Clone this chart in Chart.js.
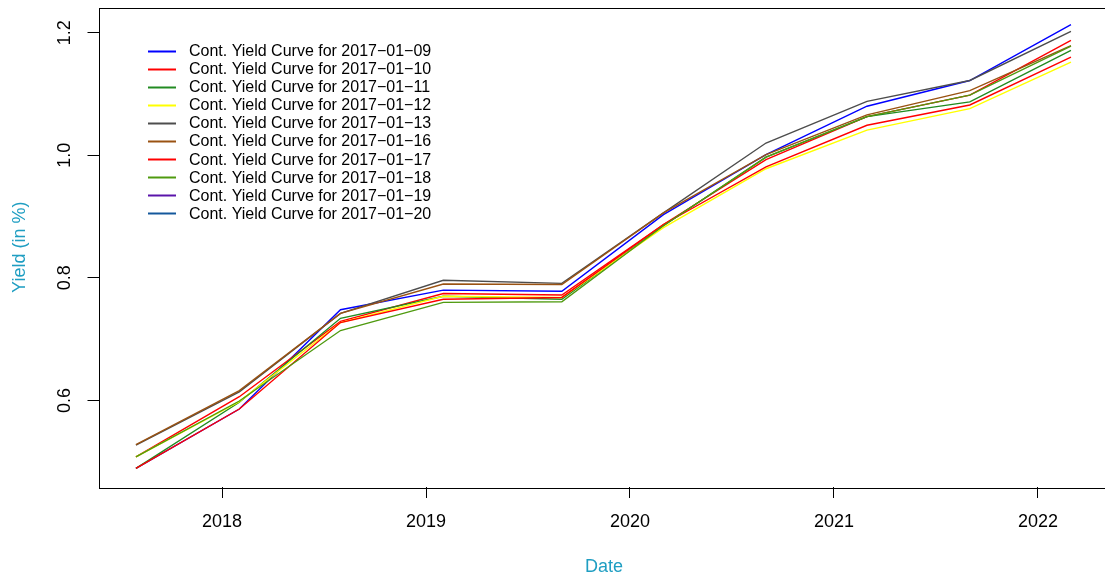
<!DOCTYPE html>
<html>
<head>
<meta charset="utf-8">
<script src="https://cdn.jsdelivr.net/npm/chart.js@4/dist/chart.umd.min.js"></script>
<style>
  html, body { margin: 0; padding: 0; background: #fff; overflow: hidden; }
  #wrap { position: relative; width: 1112px; height: 580px; }
</style>
</head>
<body>
<div id="wrap"><canvas id="c"></canvas></div>
<script>
// ---- data ----
const maturities = ['2017-07-31','2018-02-01','2018-08-01','2019-02-01','2019-09-01',
                    '2020-03-01','2020-09-01','2021-03-01','2021-09-01','2022-03-01'];
const seriesNames = ['Cont. Yield Curve for 2017\u221201\u221209','Cont. Yield Curve for 2017\u221201\u221210',
  'Cont. Yield Curve for 2017\u221201\u221211','Cont. Yield Curve for 2017\u221201\u221212',
  'Cont. Yield Curve for 2017\u221201\u221213','Cont. Yield Curve for 2017\u221201\u221216',
  'Cont. Yield Curve for 2017\u221201\u221217','Cont. Yield Curve for 2017\u221201\u221218',
  'Cont. Yield Curve for 2017\u221201\u221219','Cont. Yield Curve for 2017\u221201\u221220'];
const y20170109 = [0.489, 0.586, 0.748, 0.780, 0.778, 0.903, 1.001, 1.080, 1.122, 1.213];
const y20170110 = [0.508, 0.606, 0.729, 0.7745, 0.772, 0.887, 0.993, 1.063, 1.098, 1.1875];
const y20170111 = [0.489, 0.597, 0.734, 0.770, 0.765, 0.885, 0.997, 1.063, 1.087, 1.171];
const y20170112 = [0.508, 0.598, 0.727, 0.770, 0.768, 0.882, 0.978, 1.041, 1.076, 1.152];
const y20170113 = [0.527, 0.614, 0.742, 0.796, 0.791, 0.906, 1.020, 1.088, 1.122, 1.202];
const y20170116 = [0.528, 0.616, 0.742, 0.790, 0.789, 0.906, 1.001, 1.066, 1.1055, 1.179];
const y20170117 = [0.489, 0.586, 0.727, 0.765, 0.768, 0.887, 0.981, 1.049, 1.082, 1.160];
const y20170118 = [0.508, 0.599, 0.714, 0.760, 0.761, 0.885, 0.997, 1.063, 1.098, 1.178];
const y20170119 = [];
const y20170120 = [];
const xTickYears = [2018, 2019, 2020, 2021, 2022];
const yTickValues = [0.6, 0.8, 1.0, 1.2];

// ---- styling ----
const colors = ['#0000ff','#ff0000','#228b22','#ffff00','#4d4d4d','#9a5212','#ff0000','#4f9a0f','#5a14aa','#14589c'];
const allSeries = [y20170109,y20170110,y20170111,y20170112,y20170113,y20170116,y20170117,y20170118,y20170119,y20170120];
const titleColor = '#1f9ec2';
const FONT = '"Liberation Sans", Arial, Helvetica, sans-serif';

function decimalYear(s) {
  const [y, m, d] = s.split('-').map(Number);
  const start = Date.UTC(y, 0, 1), end = Date.UTC(y + 1, 0, 1);
  return y + (Date.UTC(y, m - 1, d) - start) / (end - start);
}
const xs = maturities.map(decimalYear);

const datasets = allSeries.map((vals, i) => ({
  label: seriesNames[i],
  data: vals.map((v, j) => ({ x: xs[j], y: v })),
  borderColor: colors[i],
  backgroundColor: colors[i],
  borderWidth: 1.4,
  pointRadius: 0,
  tension: 0,
  fill: false,
  order: 100 - i
}));

const framePlugin = {
  id: 'frame',
  afterDraw(chart) {
    const { ctx, chartArea: a } = chart;
    ctx.save();
    ctx.strokeStyle = '#000';
    ctx.lineWidth = 1;
    ctx.strokeRect(Math.round(a.left) + 0.5, Math.round(a.top) + 0.5,
                   Math.round(a.right - a.left), Math.round(a.bottom - a.top));
    ctx.restore();
  }
};

const legendPlugin = {
  id: 'rlegend',
  afterDatasetsDraw(chart) {
    const ctx = chart.ctx;
    ctx.save();
    ctx.font = '16px ' + FONT;
    ctx.textBaseline = 'middle';
    ctx.textAlign = 'left';
    chart.data.datasets.forEach((ds, i) => {
      const y = 50.7 + i * 18.07;
      ctx.strokeStyle = ds.borderColor;
      ctx.lineWidth = 2;
      ctx.beginPath();
      ctx.moveTo(148, Math.round(y) + 0.5);
      ctx.lineTo(176, Math.round(y) + 0.5);
      ctx.stroke();
      ctx.fillStyle = '#000';
      ctx.fillText(ds.label, 189, y + 1);
    });
    ctx.restore();
  }
};

new Chart(document.getElementById('c'), {
  type: 'line',
  data: { datasets },
  plugins: [framePlugin, legendPlugin],
  options: {
    responsive: true,
    maintainAspectRatio: false,
    animation: false,
    layout: { padding: { top: 7.5, right: 2.5, left: 0, bottom: 0 } },
    plugins: { legend: { display: false }, tooltip: { enabled: false } },
    scales: {
      x: {
        type: 'linear',
        min: 2017.3946,
        max: 2022.3505,
        afterBuildTicks: s => { s.ticks = xTickYears.map(v => ({ value: v })); },
        afterFit: s => { s.height = 93; s.paddingLeft = 0; s.paddingRight = 0; },
        border: { display: false },
        grid: { drawOnChartArea: false, drawTicks: true, tickLength: 11, color: '#000', lineWidth: 1 },
        ticks: {
          color: '#000',
          font: { family: FONT, size: 18 },
          padding: 13,
          maxRotation: 0,
          callback: v => String(v)
        },
        title: {
          display: true,
          text: 'Date',
          color: titleColor,
          font: { family: FONT, size: 18 },
          padding: { top: 0, bottom: 2 }
        }
      },
      y: {
        type: 'linear',
        min: 0.4587,
        max: 1.2411,
        afterBuildTicks: s => { s.ticks = yTickValues.map(v => ({ value: v })); },
        afterFit: s => { s.width = 98.5; s.paddingTop = 0; s.paddingBottom = 0; },
        border: { display: false },
        grid: { drawOnChartArea: false, drawTicks: true, tickLength: 11, color: '#000', lineWidth: 1 },
        ticks: {
          color: '#000',
          font: { family: FONT, size: 18 },
          minRotation: 90,
          maxRotation: 90,
          crossAlign: 'center',
          padding: 10,
          callback: v => v.toFixed(1)
        },
        title: {
          display: true,
          text: 'Yield (in %)',
          color: titleColor,
          font: { family: FONT, size: 18 },
          padding: { top: 9, bottom: 0 }
        }
      }
    }
  }
});
</script>
</body>
</html>
